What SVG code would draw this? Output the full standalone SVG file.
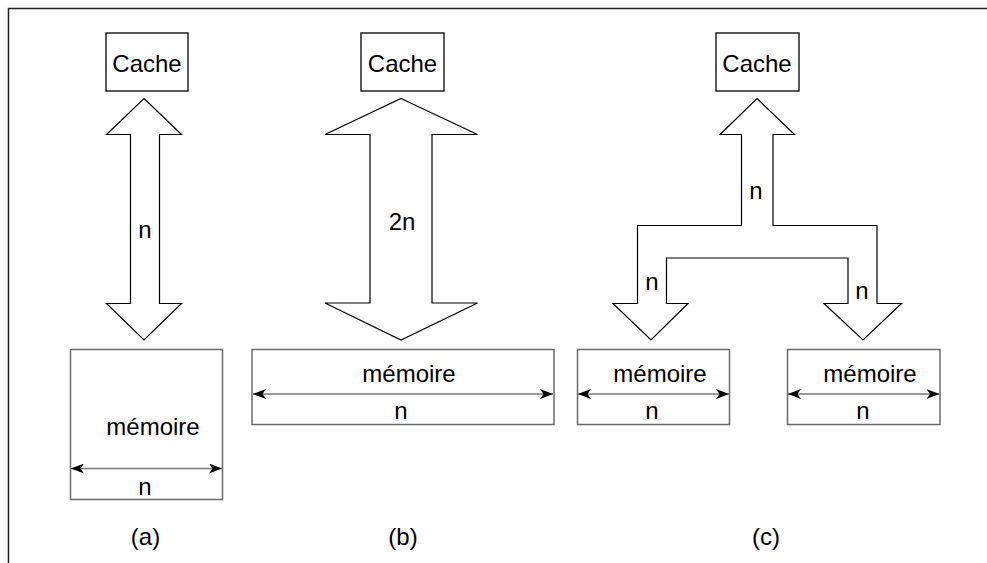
<svg xmlns="http://www.w3.org/2000/svg" width="987" height="563" viewBox="0 0 987 563">
<defs>
<style>
text{font-family:"Liberation Sans",Arial,sans-serif;font-size:24px;fill:#000;text-anchor:middle}
.box{fill:#fff;stroke:#000;stroke-width:1.3}
.mem{fill:#fff;stroke:#6a6a6a;stroke-width:1.5}
.big{fill:#fff;stroke:#000;stroke-width:1.2;stroke-linejoin:miter}
.dim{fill:none;stroke:#777;stroke-width:1.5;marker-start:url(#ah);marker-end:url(#ah)}
</style>
<marker id="ah" markerUnits="userSpaceOnUse" viewBox="0 0 13 10" refX="13" refY="5" markerWidth="13" markerHeight="10" orient="auto-start-reverse">
<path d="M0,0 L13,5 L0,10 L3.5,5 Z" fill="#000"/>
</marker>
</defs>
<rect width="987" height="563" fill="#fff"/>
<path d="M8.5,563 V8.5 H987" fill="none" stroke="#222" stroke-width="1.5"/>

<g id="cache-a"><rect class="box" x="106" y="33" width="82" height="58"/><text x="147" y="72">Cache</text></g>
<g id="cache-b"><rect class="box" x="361" y="33" width="83" height="58"/><text x="402.5" y="72">Cache</text></g>
<g id="cache-c"><rect class="box" x="716" y="33" width="83" height="58"/><text x="757" y="72">Cache</text></g>

<g id="mem-a"><rect class="mem" x="70.5" y="349.5" width="152" height="150"/><text x="153" y="435">mémoire</text><text x="145" y="495">n</text></g>
<g id="mem-b"><rect class="mem" x="252" y="349.5" width="302" height="75"/><text x="409" y="381.5">mémoire</text><text x="401" y="418.5">n</text></g>
<g id="mem-c1"><rect class="mem" x="577.5" y="349.5" width="152" height="75"/><text x="660" y="381.5">mémoire</text><text x="652" y="418.5">n</text></g>
<g id="mem-c2"><rect class="mem" x="787.5" y="349.5" width="152.5" height="75"/><text x="870" y="381.5">mémoire</text><text x="863" y="418.5">n</text></g>

<g id="connectors">
<polygon class="big" points="144,98.5 181.5,134.5 159.5,134.5 159.5,303.5 181.5,303.5 144,340 106.5,303.5 130.5,303.5 130.5,134.5 106.5,134.5"/>
<polygon class="big" points="401,98.5 477.5,134.5 432,134.5 432,303 477.5,303 401,340 325,303 370,303 370,134.5 325,134.5"/>
<polygon class="big" points="757,98.5 794.5,134.5 773,134.5 773,225.5 877,225.5 877,303.5 901.5,303.5 863,340 824,303.5 848,303.5 848,258 666.5,258 666.5,303.5 688,303.5 651,340 613,303.5 637.5,303.5 637.5,225.5 741.5,225.5 741.5,134.5 720,134.5"/>
<line class="dim" x1="71" y1="468.5" x2="222" y2="468.5"/>
<line class="dim" x1="253" y1="394" x2="553" y2="394"/>
<line class="dim" x1="578" y1="394" x2="729" y2="394"/>
<line class="dim" x1="788" y1="394" x2="939.5" y2="394"/>
<text x="145" y="238">n</text>
<text x="402" y="229.5">2n</text>
<text x="756" y="198.5">n</text>
<text x="652" y="290">n</text>
<text x="862" y="298.5">n</text>
</g>

<g id="captions">
<text x="145.5" y="545">(a)</text>
<text x="403" y="545">(b)</text>
<text x="766" y="545">(c)</text>
</g>
</svg>
